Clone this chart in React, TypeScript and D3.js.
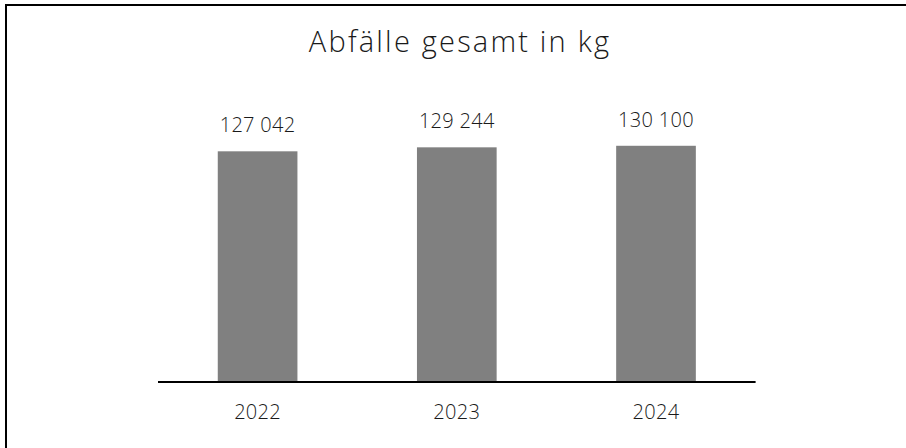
import React from "react";
import * as d3 from "d3";

const years: string[] = ["2022", "2023", "2024"];
const totals: number[] = [127042, 129244, 130100];
const title = "Abfälle gesamt in kg";

const W = 906;
const H = 448;
const FONT = "'Open Sans', Lato, sans-serif";

function fmt(v: number): string {
  const s = String(Math.round(v));
  return s.replace(/\B(?=(\d{3})+(?!\d))/g, " ");
}

export default function App() {
  const x = d3
    .scaleBand<string>()
    .domain(years)
    .range([158, 755.6])
    .paddingInner(0.6)
    .paddingOuter(0.3);
  const y = d3.scaleLinear().domain([0, 140000]).range([381, 381 - 0.001808 * 140000]);
  const data = years.map((yr, i) => ({ yr, v: totals[i] }));

  return (
    <div style={{ position: "absolute", left: 0, top: 0 }}>
      <svg width={W} height={H} style={{ display: "block", background: "#fff" }}>
        <line x1={5} x2={W} y1={5} y2={5} stroke="#000" strokeWidth={2} />
        <line x1={6} x2={6} y1={4} y2={H} stroke="#000" strokeWidth={2} />
        <text
          x={460}
          y={52}
          textAnchor="middle"
          fontFamily={FONT}
          fontWeight={300}
          fontSize={29}
          letterSpacing={2.2}
          fill="#1a1a1a"
        >
          {title}
        </text>
        {data.map((d) => (
          <g key={d.yr}>
            <rect
              x={x(d.yr)}
              y={y(d.v)}
              width={x.bandwidth()}
              height={y(0) - y(d.v)}
              fill="#808080"
            />
            <text
              x={(x(d.yr) as number) + x.bandwidth() / 2}
              y={y(d.v) - 19}
              textAnchor="middle"
              fontFamily={FONT}
              fontWeight={300}
              fontSize={20}
              letterSpacing={0.3}
              fill="#1a1a1a"
            >
              {fmt(d.v)}
            </text>
            <text
              x={(x(d.yr) as number) + x.bandwidth() / 2}
              y={419}
              textAnchor="middle"
              fontFamily={FONT}
              fontWeight={300}
              fontSize={20}
              letterSpacing={0.3}
              fill="#1a1a1a"
            >
              {d.yr}
            </text>
          </g>
        ))}
        <line x1={158} x2={755.6} y1={382} y2={382} stroke="#000" strokeWidth={2} />
      </svg>
    </div>
  );
}
